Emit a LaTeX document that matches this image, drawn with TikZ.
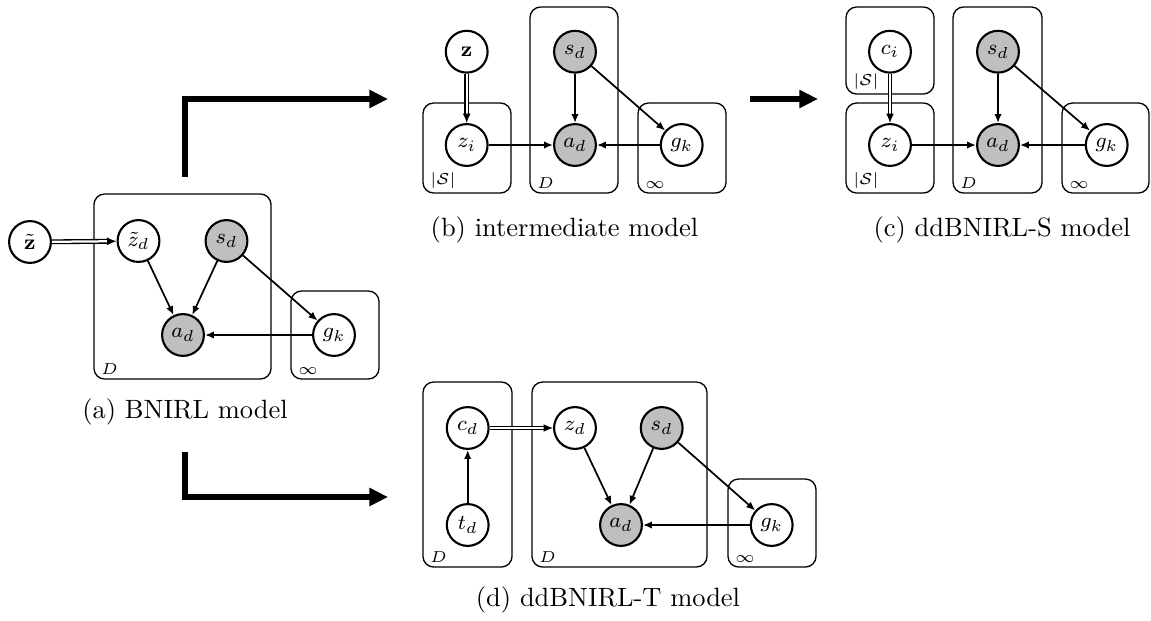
\documentclass[tikz,border=0pt]{standalone}
\usepackage{amsmath,amssymb}
\usetikzlibrary{arrows.meta, positioning, fit, calc}
\tikzset{
	latent/.style={circle, draw, fill=white, line width=0.8pt, minimum size=15.8pt, inner sep=0pt, font=\footnotesize},
	obs/.style={latent, fill=gray!50},
	plate/.style={draw, rectangle, rounded corners=4pt, line width=0.5pt, inner sep=0pt},
	platelabel/.style={anchor=south west, inner sep=0pt, font=\fontsize{6}{7}\selectfont},
	edge/.style={draw, line width=0.65pt, -{Latex[length=3.4pt, width=2.8pt]}},
	dedge/.style={draw, double, double distance=0.85pt, line width=0.5pt, -{Latex[length=3.6pt, width=3pt]}},
	bigarrow/.style={draw, line width=1.9pt, -{Triangle[length=7pt, width=6.5pt]}},
	subcap/.style={font=\normalsize, inner sep=0pt}
}

\begin{document}
\begin{tikzpicture}[x=0.378pt, y=-0.378pt]
	\useasboundingbox (0,0) rectangle (1151,620);
	
	%
	% (a) BNIRL model
	%
	\node[latent] (a_zt) at (30,242) {$\tilde{\mathbf{z}}$};
	\node[latent] (a_ztd) at (138.5,241) {$\tilde{z}_d$};
	\node[obs] (a_sd) at (226.5,241) {$s_d$};
	\node[obs] (a_ad) at (183,335) {$a_d$};
	\node[latent] (a_gk) at (334,335) {$g_k$};
	
	% plates
	\node[plate, fit={(94,194) (271,379)}] (a_plate_D) {};
	\node[plate, fit={(291,291) (379,379)}] (a_plate_inf) {};
	\node[platelabel] at ([shift={(2.8pt,1.8pt)}]a_plate_D.south west) {$D$};
	\node[platelabel] at ([shift={(2.8pt,1.8pt)}]a_plate_inf.south west) {$\infty$};
	
	% edges
	\draw[dedge] (a_zt) -- (a_ztd);
	\draw[edge] (a_ztd) -- (a_ad);
	\draw[edge] (a_sd) -- (a_ad);
	\draw[edge] (a_sd) -- (a_gk);
	\draw[edge] (a_gk) -- (a_ad);
	
	\node[subcap] (cap_a) at (185,412) {(a) BNIRL model};
	
	%
	% (b) intermediate model
	%
	\node[latent] (b_z) at (466.7,51.7) {$\mathbf{z}$};
	\node[latent] (b_zi) at (466.7,145) {$z_i$};
	\node[obs] (b_sd) at (575,51.7) {$s_d$};
	\node[obs] (b_ad) at (575,145) {$a_d$};
	\node[latent] (b_gk) at (681.7,145) {$g_k$};
	
	% plates
	\node[plate, fit={(423,103) (511,193)}] (b_plate_S) {};
	\node[plate, fit={(530,7) (618,193)}] (b_plate_D) {};
	\node[plate, fit={(638,103) (726,193)}] (b_plate_inf) {};
	\node[platelabel] at ([shift={(2.8pt,1.8pt)}]b_plate_S.south west) {$|\mathcal{S}|$};
	\node[platelabel] at ([shift={(2.8pt,1.8pt)}]b_plate_D.south west) {$D$};
	\node[platelabel] at ([shift={(2.8pt,1.8pt)}]b_plate_inf.south west) {$\infty$};
	
	% edges
	\draw[dedge] (b_z) -- (b_zi);
	\draw[edge] (b_zi) -- (b_ad);
	\draw[edge] (b_sd) -- (b_ad);
	\draw[edge] (b_sd) -- (b_gk);
	\draw[edge] (b_gk) -- (b_ad);
	
	\node[subcap] (cap_b) at (564.5,230) {(b) intermediate model};
	
	%
	% (c) ddBNIRL-S model
	%
	\node[latent] (c_ci) at (890,51.7) {$c_i$};
	\node[latent] (c_zi) at (890,145) {$z_i$};
	\node[obs] (c_sd) at (998,51.7) {$s_d$};
	\node[obs] (c_ad) at (998,145) {$a_d$};
	\node[latent] (c_gk) at (1106.7,145) {$g_k$};
	
	% plates
	\node[plate, fit={(846,7) (934,94)}] (c_plate_S_top) {};
	\node[plate, fit={(846,103) (934,193)}] (c_plate_S) {};
	\node[plate, fit={(953,7) (1042,193)}] (c_plate_D) {};
	\node[plate, fit={(1062,103) (1149,193)}] (c_plate_inf) {};
	\node[platelabel] at ([shift={(2.8pt,1.8pt)}]c_plate_S_top.south west) {$|\mathcal{S}|$};
	\node[platelabel] at ([shift={(2.8pt,1.8pt)}]c_plate_S.south west) {$|\mathcal{S}|$};
	\node[platelabel] at ([shift={(2.8pt,1.8pt)}]c_plate_D.south west) {$D$};
	\node[platelabel] at ([shift={(2.8pt,1.8pt)}]c_plate_inf.south west) {$\infty$};
	
	% edges
	\draw[dedge] (c_ci) -- (c_zi);
	\draw[edge] (c_zi) -- (c_ad);
	\draw[edge] (c_sd) -- (c_ad);
	\draw[edge] (c_sd) -- (c_gk);
	\draw[edge] (c_gk) -- (c_ad);
	
	\node[subcap] (cap_c) at (1002,230) {(c) ddBNIRL-S model};
	
	%
	% (d) ddBNIRL-T model
	%
	\node[latent] (d_cd) at (467.7,428) {$c_d$};
	\node[latent] (d_td) at (467.7,525) {$t_d$};
	\node[latent] (d_zd) at (575,428) {$z_d$};
	\node[obs] (d_sd) at (661.7,428) {$s_d$};
	\node[obs] (d_ad) at (621,525) {$a_d$};
	\node[latent] (d_gk) at (771.7,525) {$g_k$};
	
	% plates
	\node[plate, fit={(423,382) (512,567)}] (d_plate_T) {};
	\node[plate, fit={(532,382) (707,567)}] (d_plate_D) {};
	\node[plate, fit={(728,479) (816,567)}] (d_plate_inf) {};
	\node[platelabel] at ([shift={(2.8pt,1.8pt)}]d_plate_T.south west) {$D$};
	\node[platelabel] at ([shift={(2.8pt,1.8pt)}]d_plate_D.south west) {$D$};
	\node[platelabel] at ([shift={(2.8pt,1.8pt)}]d_plate_inf.south west) {$\infty$};
	
	% edges
	\draw[edge] (d_td) -- (d_cd);
	\draw[dedge] (d_cd) -- (d_zd);
	\draw[edge] (d_zd) -- (d_ad);
	\draw[edge] (d_sd) -- (d_ad);
	\draw[edge] (d_sd) -- (d_gk);
	\draw[edge] (d_gk) -- (d_ad);
	
	\node[subcap] (cap_d) at (608,600) {(d) ddBNIRL-T model};
	
	%
	% transition arrows between the models
	%
	\coordinate (up_start) at (185,177);
	\coordinate (up_end) at (388,99);
	\coordinate (down_start) at (185,452);
	\coordinate (down_end) at (388,497);
	\coordinate (mid_start) at (750,99);
	\coordinate (mid_end) at (818,99);
	
	\draw[bigarrow] (up_start) |- (up_end);
	\draw[bigarrow] (down_start) |- (down_end);
	\draw[bigarrow] (mid_start) -- (mid_end);
	
\end{tikzpicture}
\end{document}
